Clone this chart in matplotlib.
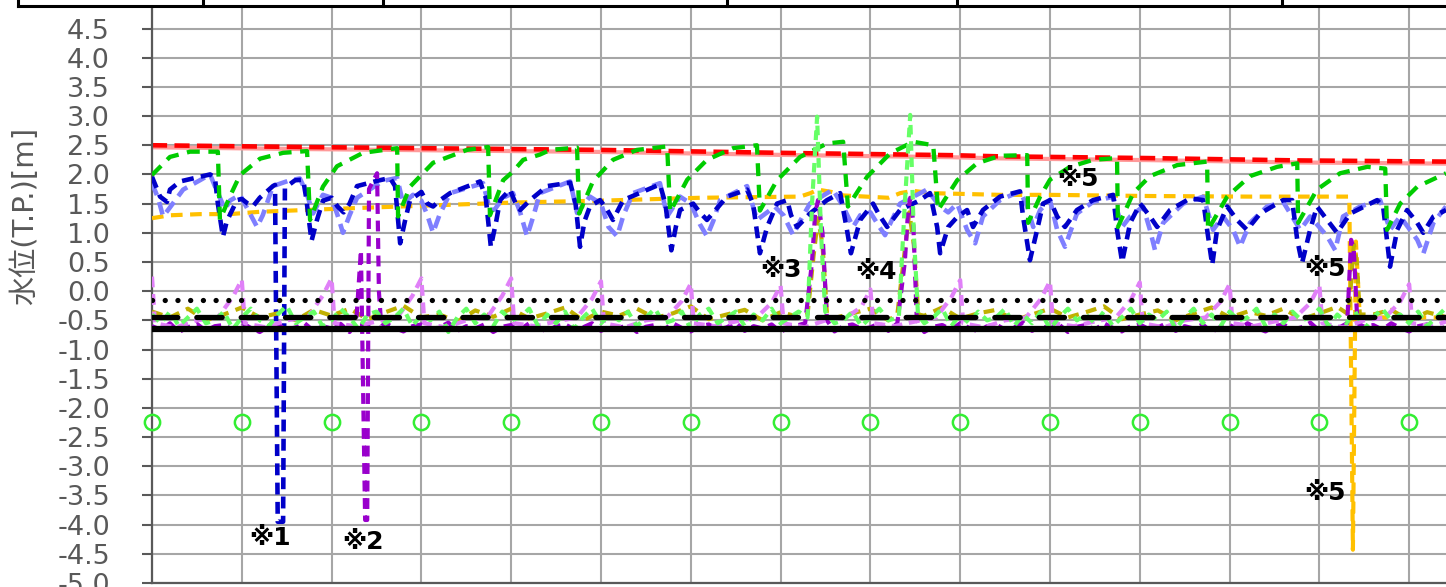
import numpy as np
import matplotlib
matplotlib.use("Agg")
import matplotlib.pyplot as plt
from matplotlib.lines import Line2D

plt.rcParams['axes.unicode_minus'] = False
plt.rcParams['font.family'] = ['DejaVu Sans', 'Noto Sans CJK JP']

# ---------------- data (x in days, vertical grid every 30 days) ----------------
grid_days = [0, 30, 60, 90, 120, 150, 180, 210, 240, 270, 300, 330, 360, 390, 420]
y_ticks = [-5.0, -4.5, -4.0, -3.5, -3.0, -2.5, -2.0, -1.5, -1.0, -0.5,
           0.0, 0.5, 1.0, 1.5, 2.0, 2.5, 3.0, 3.5, 4.0, 4.5]

red_x = [0, 50, 110, 150, 210, 267, 283, 333, 383, 432.3]
red_y = [2.50, 2.47, 2.44, 2.42, 2.37, 2.33, 2.31, 2.28, 2.24, 2.22]

gr_x = [0, 6, 12.7, 22.0, 22.7, 26, 29.4, 36.1, 43.8, 51.8,
        52.8, 57.1, 61.8, 70.5, 81.9, 82.2, 86.2, 93.9, 105.2, 112.3,
        112.9, 117.3, 120.6, 124, 129.6, 133, 142.0, 142.7, 147.3, 154,
        162, 172.1, 173.1, 178.8, 185.4, 194.1, 202.1, 203.1, 208.8, 216.5,
        225.5, 230.9, 232.5, 238.9, 246.6, 254.3, 261.0, 262.6, 269, 275.6,
        283.3, 292.4, 292.7, 296.7, 300, 306.7, 314.4, 322.4, 322.7, 327.8,
        333.4, 342.5, 352.5, 352.8, 359.2, 366.8, 375.9, 382.6, 382.9, 389.2,
        396.9, 406, 412.0, 412.6, 417, 422.7, 432.3]
gr_y = [1.99, 2.30, 2.39, 2.39, 1.22, 1.62, 1.99, 2.27, 2.37, 2.40,
        1.22, 1.79, 2.14, 2.37, 2.45, 1.28, 1.79, 2.20, 2.42, 2.47,
        1.30, 1.90, 2.05, 2.25, 2.34, 2.42, 2.46, 1.33, 1.88, 2.25,
        2.42, 2.48, 1.36, 1.91, 2.25, 2.45, 2.50, 1.38, 1.90, 2.30,
        2.53, 2.56, 1.45, 1.96, 2.36, 2.56, 2.50, 1.39, 1.90, 2.19,
        2.32, 2.33, 1.17, 1.62, 1.91, 2.13, 2.25, 2.28, 1.10, 1.68,
        1.97, 2.16, 2.22, 1.05, 1.62, 1.97, 2.13, 2.19, 1.17, 1.74,
        2.02, 2.13, 2.10, 1.05, 1.50, 1.79, 2.02]

db_x = [0, 2.7, 5, 6, 9.4, 16, 19.4, 21, 22, 23.7,
        25, 28.4, 30, 32, 33.7, 36, 40.4, 41.1, 42.0, 43.8, 44.4,
        47.8, 50.5, 51.5, 53.3, 55, 57.1, 60, 62, 64, 66,
        68.5, 75.2, 79.5, 81.2, 82.9, 84.5, 86.2, 90, 92, 93.9,
        96, 99.6, 109.6, 111.5, 113.2, 115, 116.3, 119.6, 121.5, 123,
        126.3, 132, 139.7, 141.5, 143, 144.5, 146.3, 149.7, 152, 154,
        157.4, 169.7, 171.5, 173.5, 175, 176.4, 180.8, 183, 185.4, 192.1,
        198.8, 200.8, 203.1, 205.5, 208.8, 212.2, 213.5, 215.5, 219.8, 225.5,
        229.9, 232, 233.5, 236.6, 240.9, 243, 245.6, 249.9, 256.6, 259.9,
        262.3, 263.3, 266, 269, 272.3, 274.3, 277.6, 283.3, 290, 291,
        293.3, 295.7, 297.7, 300, 302.4, 305, 309, 314.4, 321.1, 322.4,
        324.1, 326.8, 330.1, 333.4, 335.8, 340.1, 346.8, 351.2, 352.5, 354.2,
        355.8, 359.2, 362.5, 365.8, 370.2, 377.9, 380.9, 382.6, 384.2, 386.9,
        389.2, 392.6, 395.9, 400.3, 409.3, 411.3, 413.6, 416, 419.3, 422.7,
        424.7, 428.1, 432.3]
db_y = [1.96, 1.62, 1.53, 1.74, 1.88, 1.96, 2.00, 1.95, 1.50, 0.93,
        1.20, 1.56, 1.58, 1.50, 1.45, 1.60, 1.80, 1.82, -3.95, -3.95, 1.77,
        1.90, 1.91, 1.60, 0.86, 1.20, 1.55, 1.60, 1.45, 1.35, 1.50,
        1.80, 1.89, 1.94, 1.80, 0.82, 1.20, 1.56, 1.70, 1.50, 1.45,
        1.55, 1.68, 1.88, 1.60, 0.76, 1.20, 1.56, 1.74, 1.50, 1.39,
        1.56, 1.80, 1.86, 1.50, 0.76, 1.20, 1.45, 1.56, 1.40, 1.22,
        1.56, 1.83, 1.50, 0.70, 1.10, 1.39, 1.50, 1.35, 1.22, 1.62,
        1.74, 1.50, 0.65, 1.10, 1.50, 1.56, 1.30, 1.10, 1.33, 1.56,
        1.68, 1.10, 0.65, 1.22, 1.50, 1.30, 1.10, 1.39, 1.56, 1.68,
        1.10, 0.65, 1.10, 1.27, 1.39, 1.10, 1.39, 1.62, 1.71, 1.28,
        0.53, 1.05, 1.50, 1.56, 1.28, 1.10, 1.39, 1.56, 1.65, 1.05,
        0.50, 1.17, 1.50, 1.28, 1.10, 1.39, 1.59, 1.56, 1.05, 0.45,
        1.05, 1.45, 1.22, 1.05, 1.33, 1.56, 1.56, 0.88, 0.48, 1.05,
        1.45, 1.22, 1.00, 1.33, 1.56, 1.45, 0.42, 1.05, 1.39, 1.17,
        1.00, 1.28, 1.39]

lb_x = [0, 2, 3.7, 5.5, 10.4, 16, 19.4, 21, 24.4, 26,
        29.4, 32, 35.1, 37, 40.4, 46.1, 49.4, 51.5, 53.8, 55.5,
        57.1, 60, 62, 63.8, 66, 68.5, 77.2, 81.9, 83.9, 87.2,
        90, 92, 93.9, 96, 99.6, 110.6, 112.9, 114.5, 117.3, 120.6,
        123, 125.3, 127.5, 129.6, 139.7, 142, 146.3, 150, 152.5, 155.4,
        157.5, 160.7, 169.7, 172.1, 176.4, 180, 183, 185.4, 187.5, 189.8,
        198.8, 202.1, 205.5, 208, 211, 214.2, 216.5, 219.8, 227.5, 230.9,
        234.2, 236.6, 240, 243, 244.9, 247, 249.9, 258.9, 263.3, 266,
        269, 272.3, 275, 277.6, 283.3, 290, 292.4, 294.4, 296.7, 300,
        302.4, 305, 309, 314.4, 321.1, 324.1, 326.8, 331.1, 333.4, 335.1,
        337.8, 344.5, 351.2, 354.5, 357.8, 361.2, 363.5, 366.8, 372.5, 377.9,
        383.6, 386.9, 392.6, 395.3, 397.9, 403.6, 410.3, 413.6, 417, 422.7,
        424.7, 428.1, 432.3]
lb_y = [1.85, 1.60, 1.28, 1.40, 1.74, 1.90, 2.00, 1.80, 1.40, 1.55,
        1.65, 1.40, 1.10, 1.30, 1.80, 1.90, 1.93, 1.70, 1.33, 1.50,
        1.65, 1.60, 1.30, 1.00, 1.30, 1.60, 1.89, 1.94, 1.50, 1.65,
        1.55, 1.30, 1.00, 1.30, 1.68, 1.85, 1.39, 1.40, 1.60, 1.68,
        1.35, 0.94, 1.30, 1.68, 1.88, 1.34, 1.62, 1.50, 1.10, 0.94,
        1.30, 1.68, 1.85, 1.28, 1.62, 1.50, 1.15, 0.94, 1.20, 1.56,
        1.80, 1.22, 1.35, 1.45, 1.30, 0.96, 1.20, 1.50, 1.74, 1.45,
        1.10, 1.30, 1.35, 1.10, 0.96, 1.20, 1.50, 1.74, 1.45, 1.35,
        1.50, 1.05, 0.82, 1.28, 1.56, 1.71, 1.45, 1.10, 1.39, 1.56,
        1.05, 0.76, 1.33, 1.53, 1.62, 1.10, 1.28, 1.45, 1.05, 0.70,
        1.17, 1.50, 1.62, 1.05, 1.28, 1.05, 0.76, 1.17, 1.45, 1.53,
        1.05, 1.28, 0.94, 0.70, 1.28, 1.45, 1.56, 1.05, 1.28, 0.88,
        0.64, 1.17, 1.45]

or_x = [0, 6, 16, 26, 36, 46, 66, 77, 99.6, 121.7,
        149.7, 183, 216.5, 220, 222.5, 227, 231, 246, 250, 254.3,
        260, 283.3, 300, 333.4, 366.8, 400.0, 401.2, 402.2, 403.5, 432.3]
or_y = [1.25, 1.30, 1.32, 1.32, 1.36, 1.38, 1.42, 1.44, 1.48, 1.52,
        1.55, 1.60, 1.62, 1.68, 1.74, 1.70, 1.64, 1.60, 1.68, 1.72,
        1.68, 1.65, 1.65, 1.63, 1.62, 1.62, -4.43, 0.85, -0.45, -0.45]

# light green: noisy record every 3 days plus two large spikes
lg_base_y = [-0.40, -0.55, -0.35, -0.60, -0.45, -0.30, -0.55, -0.50, -0.35, -0.65,
             -0.45, -0.30, -0.50, -0.60, -0.40, -0.25, -0.55, -0.45, -0.35, -0.60,
             -0.50, -0.30, -0.45, -0.65, -0.40, -0.35, -0.55, -0.45, -0.30, -0.60,
             -0.40, -0.50, -0.35, -0.70, -0.45, -0.30, -0.55, -0.40, -0.60, -0.35,
             -0.50, -0.45, -0.30, -0.60, -0.40, -0.55, -0.35, -0.65, -0.45, -0.30,
             -0.55, -0.40, -0.50, -0.35, -0.60, -0.45, -0.30, -0.55, -0.50, -0.35,
             -0.65, -0.40, -0.30, -0.55, -0.45, -0.35, -0.60, -0.40, -0.50, -0.30,
             -0.55, -0.45, -0.35, -0.70, -0.40, -0.30, -0.55, -0.50, -0.35, -0.60,
             -0.45, -0.30, -0.50, -0.65, -0.40, -0.35, -0.55, -0.45, -0.30, -0.60,
             -0.40, -0.55, -0.35, -0.50, -0.45, -0.30, -0.60, -0.40, -0.55, -0.35,
             -0.65, -0.45, -0.30, -0.50, -0.40, -0.55, -0.35, -0.60, -0.45, -0.30,
             -0.55, -0.40, -0.50, -0.35, -0.65, -0.45, -0.30, -0.55, -0.40, -0.60,
             -0.35, -0.50, -0.45, -0.30, -0.60, -0.40, -0.55, -0.35, -0.50, -0.45,
             -0.30, -0.60, -0.40, -0.55, -0.35, -0.65, -0.45, -0.30, -0.50, -0.40,
             -0.55, -0.35, -0.60, -0.45, -0.30]
lg_spk_x = [219.0, 220.5, 222.2, 223.5, 224.9, 249.5, 251.5, 253.3, 254.5, 255.9]
lg_spk_y = [-0.45, 1.50, 2.99, 1.00, -0.35, -0.45, 1.50, 3.02, 1.00, -0.40]

# purple
pu_base_y = [-0.60, -0.66, -0.55, -0.70, -0.62, -0.56, -0.68, -0.60, -0.58, -0.66,
             -0.54, -0.63, -0.70, -0.60, -0.57, -0.66, -0.62, -0.55, -0.68, -0.60,
             -0.64, -0.56, -0.70, -0.61, -0.58, -0.67, -0.55, -0.63, -0.69, -0.60,
             -0.57, -0.66, -0.62, -0.54, -0.68, -0.60, -0.64, -0.57, -0.70, -0.61,
             -0.58, -0.66, -0.55, -0.63, -0.69, -0.60, -0.57, -0.65, -0.62, -0.55,
             -0.68, -0.60, -0.64, -0.57, -0.70, -0.61, -0.58, -0.66, -0.55, -0.63,
             -0.69, -0.60, -0.57, -0.66, -0.62, -0.54, -0.68, -0.60, -0.64, -0.57,
             -0.70, -0.61, -0.58, -0.66, -0.55, -0.63, -0.69, -0.60, -0.57, -0.65,
             -0.62, -0.55, -0.68, -0.60, -0.64, -0.57, -0.70, -0.61, -0.58, -0.66,
             -0.55, -0.63, -0.69, -0.60, -0.57, -0.66, -0.62, -0.54, -0.68, -0.60,
             -0.64, -0.57, -0.70, -0.61, -0.58, -0.66, -0.55, -0.63, -0.69, -0.60,
             -0.57, -0.65, -0.62, -0.55, -0.68, -0.60, -0.64, -0.57, -0.70, -0.61,
             -0.58, -0.66, -0.55, -0.63, -0.69, -0.60, -0.57, -0.66, -0.62, -0.54,
             -0.68, -0.60, -0.64, -0.57, -0.70, -0.61, -0.58, -0.66, -0.55, -0.63,
             -0.69, -0.60, -0.57, -0.65, -0.62]
pu_spk_x = [68.2, 69.8, 71.2, 71.9, 72.5, 75.2, 75.8, 76.6,
            218.2, 220.5, 221.5, 222.5, 224.0, 225.5,
            249.0, 251.5, 252.5, 253.3, 254.3, 255.5,
            399.3, 400.6, 401.5, 402.7]
pu_spk_y = [-0.55, 0.70, -3.92, -3.92, 1.75, 2.02, 0.00, -0.60,
            -0.55, 0.50, 1.30, 1.56, 1.00, -0.50,
            -0.55, 0.50, 1.30, 1.60, 1.20, -0.50,
            -0.55, 0.88, 0.70, -0.55]

# olive: record every 6 days plus spikes
ol_base_y = [-0.35, -0.45, -0.30, -0.50, -0.40, -0.28, -0.45, -0.38, -0.50, -0.32,
             -0.42, -0.30, -0.48, -0.36, -0.25, -0.45, -0.40, -0.52, -0.33, -0.44,
             -0.30, -0.47, -0.38, -0.28, -0.50, -0.35, -0.42, -0.30, -0.46, -0.38,
             -0.26, -0.48, -0.40, -0.32, -0.50, -0.36, -0.44, -0.28, -0.46, -0.38,
             -0.30, -0.50, -0.35, -0.42, -0.28, -0.47, -0.38, -0.32, -0.50, -0.40,
             -0.30, -0.45, -0.36, -0.26, -0.48, -0.40, -0.33, -0.50, -0.38, -0.28,
             -0.45, -0.35, -0.42, -0.30, -0.48, -0.38, -0.27, -0.46, -0.40, -0.32,
             -0.50, -0.36, -0.44]
ol_spk_x = [219.0, 221.0, 222.5, 224.0, 225.5, 249.0, 251.5, 253.0, 254.5, 256.0,
            399.8, 401.5, 402.5, 403.5]
ol_spk_y = [-0.40, 0.60, 1.25, 0.80, -0.40, -0.40, 0.70, 1.35, 0.80, -0.40,
            -0.40, 0.80, 0.50, -0.40]

# violet: small rise just before each grid day
pk_x = [0, 1, 8, 15, 22,
        27, 30, 31, 38, 45, 52,
        57, 60, 61, 68, 75, 82,
        87, 90, 91, 98, 105, 112,
        117, 120, 121, 128, 135, 142,
        147, 150, 151, 158, 165, 172,
        177, 180, 181, 188, 195, 202,
        207, 210, 211, 218, 225, 232,
        237, 240, 241, 248, 255, 262,
        267, 270, 271, 278, 285, 292,
        297, 300, 301, 308, 315, 322,
        327, 330, 331, 338, 345, 352,
        357, 360, 361, 368, 375, 382,
        387, 390, 391, 398, 405, 412,
        417, 420, 421, 428, 432.3]
pk_y = [0.25, -0.55, -0.62, -0.50, -0.45,
        -0.10, 0.20, -0.55, -0.62, -0.50, -0.45,
        -0.08, 0.22, -0.55, -0.60, -0.52, -0.45,
        -0.08, 0.22, -0.55, -0.62, -0.50, -0.45,
        -0.08, 0.22, -0.55, -0.60, -0.52, -0.45,
        -0.13, 0.17, -0.55, -0.62, -0.50, -0.45,
        -0.17, 0.13, -0.55, -0.60, -0.52, -0.45,
        -0.20, 0.10, -0.55, -0.62, -0.50, -0.45,
        -0.27, 0.03, -0.55, -0.60, -0.52, -0.45,
        -0.11, 0.19, -0.55, -0.62, -0.50, -0.45,
        -0.13, 0.17, -0.55, -0.60, -0.52, -0.45,
        -0.15, 0.15, -0.55, -0.62, -0.50, -0.45,
        -0.18, 0.12, -0.55, -0.60, -0.52, -0.45,
        -0.20, 0.10, -0.55, -0.62, -0.50, -0.45,
        -0.18, 0.12, -0.55, -0.60, -0.52]

ref_levels = [-0.15, -0.45, -0.65]      # dotted, dashed, solid black lines
circ_x = [0, 30, 60, 90, 120, 150, 180, 210, 240, 270, 300, 330, 360, 390, 420]
circ_y = [-2.25] * 15

note_text = ['※1', '※2', '※3', '※4', '※5', '※5', '※5']
note_x = [39.4, 70.5, 210.1, 241.9, 309.4, 391.9, 391.9]
note_y = [-4.23, -4.30, 0.36, 0.33, 1.92, 0.38, -3.46]


def merge(base_x, base_y, spk_x, spk_y):
    # group spike points into clusters and drop base samples inside them
    groups = []
    for x in spk_x:
        if groups and x - groups[-1][1] < 5:
            groups[-1][1] = x
        else:
            groups.append([x, x])
    pts = [(x, y) for x, y in zip(base_x, base_y)
           if not any(a - 0.5 <= x <= b + 0.5 for a, b in groups)]
    pts += list(zip(spk_x, spk_y))
    pts.sort()
    return [p[0] for p in pts], [p[1] for p in pts]


lg_x, lg_y = merge(list(np.arange(0, 433, 3)), lg_base_y, lg_spk_x, lg_spk_y)
pu_x, pu_y = merge(list(np.arange(0, 433, 3)), pu_base_y, pu_spk_x, pu_spk_y)
ol_x, ol_y = merge(list(np.arange(0, 433, 6)), ol_base_y, ol_spk_x, ol_spk_y)

# ---------------- figure ----------------
W, H = 1446, 587
fig = plt.figure(figsize=(W / 100, H / 100), dpi=100)
ax = fig.add_axes([152 / W, 4 / H, 1294 / W, 575.5 / H])
ax.set_xlim(0, 432.3)
ax.set_ylim(-5.0, 4.86)

ax.set_xticks(grid_days)
ax.set_yticks(y_ticks)
ax.set_yticklabels([f"{v:.1f}" for v in y_ticks])
ax.grid(True, color='#a6a6a6', lw=1.5)
ax.set_axisbelow(True)
ax.tick_params(axis='x', length=0, labelbottom=False)
ax.tick_params(axis='y', length=7.2, width=1.5, color='#595959', pad=23.0,
               labelsize=19.5, labelcolor='#595959')
for s in ['top', 'right']:
    ax.spines[s].set_visible(False)
for s in ['left', 'bottom']:
    ax.spines[s].set_color('#595959')
    ax.spines[s].set_linewidth(1.6)

# series
ax.plot(red_x, [v - 0.035 for v in red_y], color='#ff9a9a', lw=3.0, zorder=2)
ax.plot(red_x, red_y, color='#ff0000', lw=3.3, ls=(0, (3.3, 1.6)), zorder=2.5)
ax.plot(or_x, or_y, color='#ffc000', lw=3.0, ls=(0, (2.8, 1.8)), zorder=3)
ax.plot(lb_x, lb_y, color='#7f7fff', lw=3.3, ls=(0, (2.8, 1.6)), zorder=4)
ax.plot(db_x, db_y, color='#0000c8', lw=3.3, ls=(0, (2.6, 1.6)), zorder=4.5)
ax.plot(gr_x, gr_y, color='#00cc00', lw=3.1, ls=(0, (3.0, 2.0)), zorder=5)
ax.plot(ol_x, ol_y, color='#c0b000', lw=3.0, ls=(0, (2.6, 1.8)), zorder=5.5)
ax.plot(pu_x, pu_y, color='#9900cc', lw=3.0, ls=(0, (2.6, 1.6)), zorder=6)
ax.plot(pk_x, pk_y, color='#e080f8', lw=3.0, ls=(0, (2.6, 1.6)), zorder=6.2)
ax.plot(lg_x, lg_y, color='#66ff66', lw=3.0, ls=(0, (2.3, 1.6)), zorder=6.5)

ax.plot([0, 432.3], [ref_levels[0]] * 2, color='black', lw=3.8,
        ls=(0, (0.01, 2.4)), dash_capstyle='round', zorder=7)
ax.plot([0, 432.3], [ref_levels[1]] * 2, color='black', lw=3.8,
        ls=(0, (4.8, 3.6)), dash_capstyle='round', zorder=7)
ax.plot([0, 432.3], [ref_levels[2]] * 2, color='black', lw=4.5, zorder=7)

ax.plot(circ_x, circ_y, ls='none', marker='o', ms=11, mfc='none',
        mec='#33ee33', mew=1.8, zorder=8, clip_on=False)

for t, x, y in zip(note_text, note_x, note_y):
    ax.text(x, y, t, fontsize=18, fontweight='bold', ha='center', va='center',
            color='black', family=['DejaVu Sans', 'Noto Sans CJK JP'], zorder=9)

# y label
fig.text(25 / W, 1 - 216 / H, '水位(T.P.)[m]', rotation=90, ha='center',
         va='center', fontsize=21, color='#595959',
         family=['DejaVu Sans', 'Noto Sans CJK JP'])

# header table border (partly visible at the top)
yh = 1 - 6 / H
fig.add_artist(Line2D([18 / W, 1.0], [yh, yh], color='black', lw=2.2,
                      transform=fig.transFigure))
for hx in [18, 203, 383, 727, 957, 1282]:
    fig.add_artist(Line2D([hx / W, hx / W], [yh, 1.0], color='black', lw=2.2,
                          transform=fig.transFigure))

fig.savefig('out.png', dpi=100)
